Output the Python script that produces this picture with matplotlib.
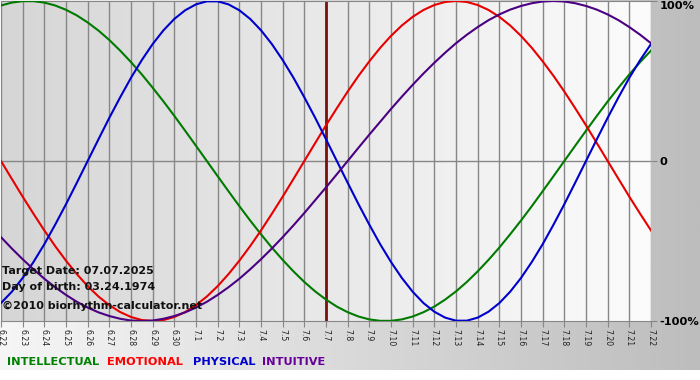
import matplotlib
matplotlib.use("Agg")
import matplotlib.pyplot as plt
import numpy as np
from matplotlib.colors import LinearSegmentedColormap

W, H = 700, 380

# days shown on the x axis (06.22 .. 07.22)
DAY_LABELS = ["6.22", "6.23", "6.24", "6.25", "6.26", "6.27", "6.28", "6.29", "6.30",
              "7.1", "7.2", "7.3", "7.4", "7.5", "7.6", "7.7", "7.8", "7.9", "7.10",
              "7.11", "7.12", "7.13", "7.14", "7.15", "7.16", "7.17", "7.18", "7.19",
              "7.20", "7.21", "7.22"]
TARGET_DAY = "7.7"

# cycle values (-1 .. 1), read every half day from 6.22 to 7.22
intellectual = [0.972, 0.990, 0.999, 0.999, 0.990, 0.972, 0.945, 0.910, 0.866, 0.815,
                0.756, 0.690, 0.618, 0.541, 0.458, 0.372, 0.282, 0.189, 0.095, 0.000,
                -0.095, -0.189, -0.282, -0.372, -0.458, -0.541, -0.618, -0.690, -0.756,
                -0.815, -0.866, -0.910, -0.945, -0.972, -0.990, -0.999, -0.999, -0.990,
                -0.972, -0.945, -0.910, -0.866, -0.815, -0.756, -0.690, -0.618, -0.541,
                -0.458, -0.372, -0.282, -0.189, -0.095, 0.000, 0.095, 0.189, 0.282,
                0.372, 0.458, 0.541, 0.618, 0.690]
emotional = [0.000, -0.112, -0.223, -0.330, -0.434, -0.532, -0.623, -0.707, -0.782,
             -0.847, -0.901, -0.944, -0.975, -0.994, -1.000, -0.994, -0.975, -0.944,
             -0.901, -0.847, -0.782, -0.707, -0.623, -0.532, -0.434, -0.330, -0.223,
             -0.112, 0.000, 0.112, 0.223, 0.330, 0.434, 0.532, 0.623, 0.707, 0.782,
             0.847, 0.901, 0.944, 0.975, 0.994, 1.000, 0.994, 0.975, 0.944, 0.901,
             0.847, 0.782, 0.707, 0.623, 0.532, 0.434, 0.330, 0.223, 0.112, 0.000,
             -0.112, -0.223, -0.330, -0.434]
physical = [-0.888, -0.817, -0.731, -0.631, -0.520, -0.398, -0.270, -0.136, 0.000,
            0.136, 0.270, 0.398, 0.520, 0.631, 0.731, 0.817, 0.888, 0.942, 0.979, 0.998,
            0.998, 0.979, 0.942, 0.888, 0.817, 0.731, 0.631, 0.520, 0.398, 0.270, 0.136,
            0.000, -0.136, -0.270, -0.398, -0.520, -0.631, -0.731, -0.817, -0.888,
            -0.942, -0.979, -0.998, -0.998, -0.979, -0.942, -0.888, -0.817, -0.731,
            -0.631, -0.520, -0.398, -0.270, -0.136, 0.000, 0.136, 0.270, 0.398, 0.520,
            0.631, 0.731]
intuitive = [-0.476, -0.547, -0.614, -0.677, -0.736, -0.789, -0.837, -0.880, -0.916,
             -0.946, -0.969, -0.986, -0.997, -1.000, -0.997, -0.986, -0.969, -0.946,
             -0.916, -0.880, -0.837, -0.789, -0.736, -0.677, -0.614, -0.547, -0.476,
             -0.402, -0.325, -0.245, -0.165, -0.083, 0.000, 0.083, 0.165, 0.245, 0.325,
             0.402, 0.476, 0.547, 0.614, 0.677, 0.736, 0.789, 0.837, 0.880, 0.916,
             0.946, 0.969, 0.986, 0.997, 1.000, 0.997, 0.986, 0.969, 0.946, 0.916,
             0.880, 0.837, 0.789, 0.736]

SERIES = [("INTELLECTUAL", intellectual, "#007a00"),
          ("EMOTIONAL", emotional, "#e80000"),
          ("PHYSICAL", physical, "#0000cc"),
          ("INTUITIVE", intuitive, "#4b0082")]
LEGEND_COLORS = ["#008000", "#ff0000", "#0000cc", "#660099"]
LEGEND_X = [7, 107, 193, 262]

OVERLAY = ["Target Date: 07.07.2025", "Day of birth: 03.24.1974",
           "\u00a92010 biorhythm-calculator.net"]
OVERLAY_Y = [271, 287, 306]


def grad(ax, c0, c1, extent):
    cmap = LinearSegmentedColormap.from_list("g", [c0, c1])
    ax.imshow(np.linspace(0, 1, 256).reshape(1, -1), cmap=cmap, extent=extent,
              aspect="auto", zorder=0, interpolation="bilinear")


fig = plt.figure(figsize=(W / 100, H / 100), dpi=100, facecolor="white")

# outer frame background
bg = fig.add_axes([0, 10 / H, 1, 1 - 10 / H])
grad(bg, "#f6f6f6", "#bdbdbd", [0, 1, 0, 1])
bg.set_xlim(0, 1)
bg.set_ylim(0, 1)
bg.axis("off")

ax = fig.add_axes([1 / W, 59 / H, 650 / W, 320 / H])
days = np.arange(len(DAY_LABELS))
grad(ax, "#d6d6d6", "#fcfcfc", [0, len(days) - 1, -1, 1])

for d in days:
    ax.axvline(d, color="#878787", lw=1, zorder=1)
ax.axhline(0, color="#878787", lw=1, zorder=1)
ax.axvline(DAY_LABELS.index(TARGET_DAY), color="#7a1010", lw=2, zorder=2)

for name, vals, col in SERIES:
    xs = np.arange(len(vals)) * (len(days) - 1) / (len(vals) - 1)
    ax.plot(xs, vals, color=col, lw=1.5, zorder=3, solid_joinstyle="round")

ax.set_xlim(0, len(days) - 1)
ax.set_ylim(-1, 1)
ax.set_xticks(days)
ax.set_xticklabels(DAY_LABELS, rotation=270, fontsize=5.6, color="#222222")
ax.tick_params(axis="x", length=4, color="#878787", pad=2)

ax.yaxis.tick_right()
ax.set_yticks([-1, 0, 1])
ax.set_yticklabels(["-100%", "0", "100%"], fontsize=8.2, fontweight="bold")
ax.tick_params(axis="y", length=4, color="#878787", pad=2)
ax.get_yticklabels()[2].set_va("top")

for s in ("left", "right"):
    ax.spines[s].set_visible(False)
for s in ("top", "bottom"):
    ax.spines[s].set_color("#878787")

for t, ty in zip(OVERLAY, OVERLAY_Y):
    fig.text(2 / W, 1 - ty / H, t, fontsize=8, fontweight="bold",
             va="center", ha="left", color="#111111", zorder=5)

for (name, _, _), col, lx in zip(SERIES, LEGEND_COLORS, LEGEND_X):
    fig.text(lx / W, 1 - 362 / H, name, fontsize=8.2, fontweight="bold",
             color=col, va="center", ha="left")

fig.savefig("out.png", dpi=100)
